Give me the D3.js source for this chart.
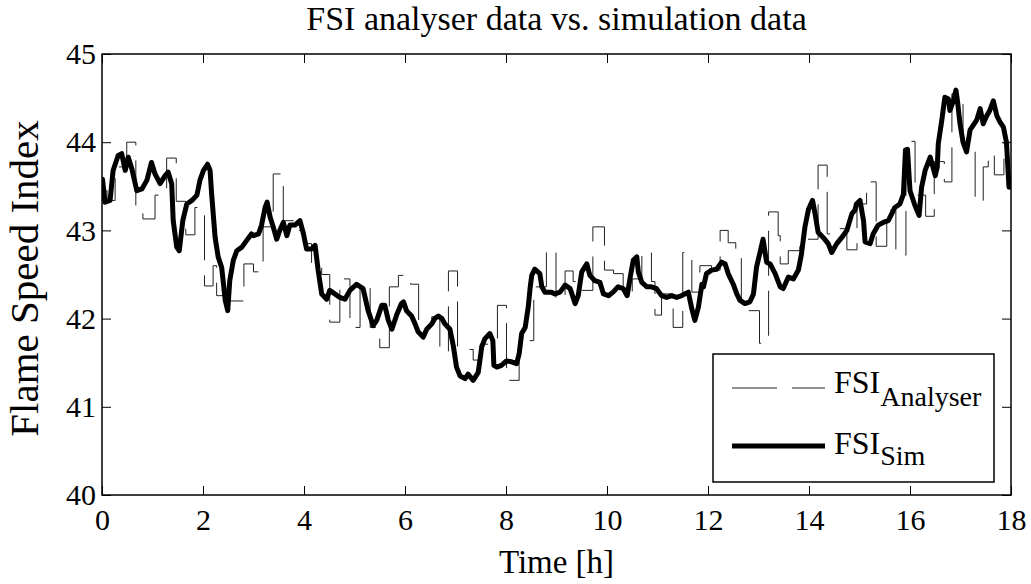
<!DOCTYPE html>
<html>
<head>
<meta charset="utf-8">
<script src="https://cdn.jsdelivr.net/npm/d3@7"></script>
<style>
  html, body { margin: 0; padding: 0; background: #fff; }
  svg { display: block; font-family: "Liberation Serif", "Times New Roman", serif; }
</style>
</head>
<body>
<svg id="chart" width="1031" height="584"></svg>
<script>
// Measured FSI from the analyser (held values, step-after)
const analyserHours = [0, 0.10, 0.26, 0.49, 0.67, 0.81, 1.05, 1.28, 1.47, 1.66,
  1.84, 2.03, 2.20, 2.27, 2.44, 2.81, 3.00, 3.19, 3.39, 3.59,
  3.80, 3.99, 4.15, 4.35, 4.51, 4.71, 4.91, 5.11, 5.31, 5.50,
  5.69, 5.87, 6.11, 6.27, 6.53, 6.69, 6.86, 7.04, 7.35, 7.49,
  7.83, 8.01, 8.26, 8.55, 8.80, 8.99, 9.17, 9.33, 9.50, 9.72,
  9.95, 10.13, 10.32, 10.50, 10.69, 10.88, 10.95, 11.08, 11.31, 11.50,
  11.68, 11.84, 12.07, 12.24, 12.40, 12.55, 12.66, 13.02, 13.20, 13.39,
  13.43, 13.59, 13.82, 14.18, 14.36, 14.55, 14.75, 14.95, 15.14, 15.33,
  15.54, 15.72, 15.92, 16.10, 16.31, 16.48, 16.68, 16.83, 17.05, 17.29,
  17.45, 17.55, 17.67, 17.86, 18.0];
const analyserFSI = [43.45, 43.34, 43.72, 44.00, 43.23, 43.13, 43.40, 43.82, 43.33, 42.95,
  43.26, 42.37, 42.60, 42.26, 42.20, 42.62, 42.53, 43.04, 43.64, 43.11,
  43.00, 42.85, 42.62, 42.50, 41.96, 42.45, 41.90, 42.38, 41.90, 41.67,
  42.36, 42.49, 42.39, 41.95, 42.02, 41.62, 42.54, 41.65, 41.53, 41.71,
  42.15, 41.30, 41.75, 42.36, 42.78, 42.22, 42.54, 42.42, 42.32, 43.04,
  42.55, 42.51, 42.30, 42.45, 42.76, 42.42, 42.04, 42.28, 41.90, 42.75,
  42.30, 42.60, 42.55, 43.00, 42.86, 42.73, 42.09, 41.72, 43.21, 42.94,
  42.62, 42.77, 42.90, 43.74, 42.96, 43.02, 42.78, 43.30, 43.55, 42.82,
  43.23, 42.72, 44.01, 43.40, 43.16, 43.78, 43.55, 44.55, 43.95, 43.32,
  43.72, 43.87, 43.63, 44.00, 44.00];

// Simulated FSI
const simHours = [0.01, 0.06, 0.16, 0.22, 0.32, 0.39, 0.46, 0.52, 0.59, 0.69,
  0.79, 0.89, 0.98, 1.05, 1.15, 1.25, 1.31, 1.38, 1.41, 1.48,
  1.53, 1.60, 1.68, 1.78, 1.88, 1.94, 2.01, 2.09, 2.14, 2.17,
  2.24, 2.30, 2.37, 2.44, 2.49, 2.53, 2.60, 2.67, 2.77, 2.87,
  2.96, 3.00, 3.10, 3.16, 3.23, 3.27, 3.33, 3.39, 3.46, 3.52,
  3.59, 3.66, 3.72, 3.82, 3.92, 3.99, 4.05, 4.15, 4.22, 4.28,
  4.35, 4.45, 4.51, 4.61, 4.71, 4.81, 4.91, 5.04, 5.17, 5.27,
  5.37, 5.44, 5.54, 5.60, 5.67, 5.74, 5.84, 5.93, 5.97, 6.03,
  6.13, 6.20, 6.26, 6.36, 6.43, 6.53, 6.59, 6.66, 6.73, 6.79,
  6.89, 6.96, 7.02, 7.09, 7.19, 7.25, 7.35, 7.45, 7.52, 7.58,
  7.68, 7.74, 7.76, 7.82, 7.91, 8.01, 8.11, 8.21, 8.26, 8.31,
  8.38, 8.44, 8.48, 8.51, 8.57, 8.67, 8.71, 8.77, 8.90, 8.97,
  9.07, 9.17, 9.27, 9.37, 9.43, 9.50, 9.60, 9.66, 9.76, 9.86,
  9.93, 10.03, 10.12, 10.22, 10.32, 10.40, 10.46, 10.52, 10.59, 10.62,
  10.69, 10.79, 10.88, 10.98, 11.08, 11.18, 11.28, 11.38, 11.48, 11.54,
  11.61, 11.68, 11.74, 11.81, 11.88, 11.91, 11.97, 12.07, 12.17, 12.27,
  12.34, 12.40, 12.50, 12.57, 12.63, 12.73, 12.83, 12.90, 12.96, 13.03,
  13.09, 13.16, 13.23, 13.33, 13.43, 13.49, 13.59, 13.69, 13.79, 13.85,
  13.92, 13.99, 14.07, 14.12, 14.18, 14.28, 14.38, 14.45, 14.55, 14.65,
  14.75, 14.85, 14.91, 14.94, 15.01, 15.08, 15.11, 15.21, 15.27, 15.37,
  15.47, 15.57, 15.64, 15.70, 15.80, 15.87, 15.91, 15.95, 16.00, 16.10,
  16.18, 16.23, 16.30, 16.40, 16.50, 16.54, 16.56, 16.63, 16.69, 16.76,
  16.79, 16.86, 16.91, 16.94, 16.99, 17.05, 17.12, 17.19, 17.25, 17.32,
  17.39, 17.45, 17.52, 17.58, 17.65, 17.72, 17.78, 17.85, 17.91, 17.96];
const simFSI = [43.58, 43.32, 43.34, 43.68, 43.85, 43.87, 43.68, 43.83, 43.70, 43.45,
  43.47, 43.57, 43.77, 43.64, 43.53, 43.62, 43.66, 43.53, 43.11, 42.81,
  42.77, 43.11, 43.30, 43.34, 43.40, 43.57, 43.68, 43.75, 43.68, 43.42,
  42.92, 42.70, 42.58, 42.21, 42.09, 42.43, 42.66, 42.77, 42.81, 42.89,
  42.96, 42.94, 42.96, 43.06, 43.26, 43.32, 43.15, 43.04, 42.90, 43.00,
  43.09, 42.94, 43.06, 43.06, 43.11, 42.96, 42.79, 42.79, 42.83, 42.55,
  42.28, 42.22, 42.32, 42.28, 42.24, 42.22, 42.32, 42.39, 42.34, 42.09,
  41.92, 41.98, 42.15, 42.15, 41.98, 41.88, 42.05, 42.17, 42.19, 42.09,
  42.03, 41.94, 41.85, 41.79, 41.88, 41.94, 42.00, 42.03, 42.00, 41.94,
  41.88, 41.68, 41.45, 41.35, 41.32, 41.37, 41.30, 41.39, 41.68, 41.77,
  41.83, 41.75, 41.47, 41.45, 41.47, 41.52, 41.51, 41.49, 41.60, 41.83,
  41.90, 42.13, 42.36, 42.49, 42.56, 42.51, 42.36, 42.30, 42.30, 42.28,
  42.30, 42.38, 42.34, 42.17, 42.26, 42.53, 42.62, 42.49, 42.43, 42.41,
  42.28, 42.26, 42.30, 42.36, 42.34, 42.26, 42.47, 42.66, 42.70, 42.53,
  42.41, 42.36, 42.36, 42.34, 42.26, 42.24, 42.26, 42.24, 42.26, 42.28,
  42.30, 42.11, 41.98, 42.13, 42.39, 42.36, 42.51, 42.55, 42.56, 42.64,
  42.62, 42.51, 42.39, 42.28, 42.21, 42.17, 42.19, 42.28, 42.58, 42.75,
  42.90, 42.64, 42.62, 42.51, 42.36, 42.34, 42.47, 42.45, 42.55, 42.73,
  43.04, 43.24, 43.34, 43.19, 42.98, 42.92, 42.85, 42.75, 42.85, 42.92,
  43.00, 43.19, 43.23, 43.30, 43.34, 43.11, 42.87, 42.85, 42.96, 43.06,
  43.09, 43.11, 43.19, 43.26, 43.30, 43.41, 43.91, 43.92, 43.45, 43.28,
  43.17, 43.49, 43.68, 43.83, 43.62, 43.72, 43.98, 44.25, 44.51, 44.49,
  44.36, 44.47, 44.59, 44.47, 44.21, 44.00, 43.89, 44.14, 44.19, 44.25,
  44.38, 44.21, 44.30, 44.36, 44.47, 44.30, 44.23, 44.17, 44.00, 43.49];

const xTicks = [0, 2, 4, 6, 8, 10, 12, 14, 16, 18];
const yTicks = [40, 41, 42, 43, 44, 45];
const seriesNames = ["Analyser", "Sim"];

const svg = d3.select("#chart");
const plotLeft = 102, plotRight = 1011, plotTop = 54, plotBottom = 495;
const x = d3.scaleLinear().domain([0, 18]).range([plotLeft, plotRight]);
const y = d3.scaleLinear().domain([40, 45]).range([plotBottom, plotTop]);

svg.append("rect").attr("width", 1031).attr("height", 584).attr("fill", "#fff");

svg.append("clipPath").attr("id", "plotClip")
  .append("rect").attr("x", plotLeft).attr("y", plotTop)
  .attr("width", plotRight - plotLeft).attr("height", plotBottom - plotTop);

const plot = svg.append("g").attr("clip-path", "url(#plotClip)");

const analyserData = analyserHours.map((h, i) => [h, analyserFSI[i]]);
const simData = simHours.map((h, i) => [h, simFSI[i]]);

plot.append("path")
  .datum(analyserData)
  .attr("fill", "none")
  .attr("stroke", "#222")
  .attr("stroke-width", 1)
  .attr("stroke-dasharray", "45,15")
  .attr("d", d3.line().x(d => x(d[0])).y(d => y(d[1])).curve(d3.curveStepAfter));

plot.append("path")
  .datum(simData)
  .attr("fill", "none")
  .attr("stroke", "#000")
  .attr("stroke-width", 5)
  .attr("stroke-linejoin", "round")
  .attr("stroke-linecap", "round")
  .attr("d", d3.line().x(d => x(d[0])).y(d => y(d[1])));

// Axes with inward ticks on all four sides
const tickLen = 9;
const axisFont = 30;
const gB = svg.append("g").attr("transform", `translate(0,${plotBottom})`)
  .call(d3.axisBottom(x).tickValues(xTicks).tickSize(-tickLen).tickPadding(14).tickFormat(d3.format("d")));
const gT = svg.append("g").attr("transform", `translate(0,${plotTop})`)
  .call(d3.axisTop(x).tickValues(xTicks).tickSize(-tickLen).tickFormat(""));
const gL = svg.append("g").attr("transform", `translate(${plotLeft},0)`)
  .call(d3.axisLeft(y).tickValues(yTicks).tickSize(-tickLen).tickPadding(6).tickFormat(d3.format("d")));
const gR = svg.append("g").attr("transform", `translate(${plotRight},0)`)
  .call(d3.axisRight(y).tickValues(yTicks).tickSize(-tickLen).tickFormat(""));

[gB, gT, gL, gR].forEach(g => {
  g.select(".domain").remove();
  g.selectAll(".tick line").attr("stroke", "#000").attr("stroke-width", 1);
  g.selectAll("text").attr("fill", "#000").style("font-size", axisFont + "px")
    .style("font-family", "'Liberation Serif', serif");
});
gB.selectAll("text").attr("dy", "0.71em");

svg.append("rect").attr("x", plotLeft).attr("y", plotTop)
  .attr("width", plotRight - plotLeft).attr("height", plotBottom - plotTop)
  .attr("fill", "none").attr("stroke", "#000").attr("stroke-width", 1.5);

// Titles
svg.append("text").attr("x", (plotLeft + plotRight) / 2).attr("y", 30)
  .attr("text-anchor", "middle").style("font-size", "34px")
  .text("FSI analyser data vs. simulation data");
svg.append("text").attr("x", (plotLeft + plotRight) / 2).attr("y", 573)
  .attr("text-anchor", "middle").style("font-size", "33px")
  .text("Time [h]");
svg.append("text").attr("transform", `translate(38,${(plotTop + plotBottom) / 2 + 4}) rotate(-90)`)
  .attr("text-anchor", "middle").style("font-size", "41px")
  .text("Flame Speed Index");

// Legend
const lg = svg.append("g");
lg.append("rect").attr("x", 713).attr("y", 354).attr("width", 281).attr("height", 128)
  .attr("fill", "#fff").attr("stroke", "#000").attr("stroke-width", 1.5);
const legendRows = [
  { name: seriesNames[0], yLine: 388, yText: 393, sub: 13, dash: "45,15", width: 1, color: "#222" },
  { name: seriesNames[1], yLine: 446, yText: 454, sub: 11, dash: null, width: 5, color: "#000" }
];
legendRows.forEach(r => {
  lg.append("line").attr("x1", 732).attr("x2", 825).attr("y1", r.yLine).attr("y2", r.yLine)
    .attr("stroke", r.color).attr("stroke-width", r.width)
    .attr("stroke-dasharray", r.dash);
  const t = lg.append("text").attr("x", 834).attr("y", r.yText).style("font-size", "32px");
  t.append("tspan").text("FSI");
  t.append("tspan").attr("dy", r.sub).style("font-size", "28px").text(r.name);
});
</script>
</body>
</html>
